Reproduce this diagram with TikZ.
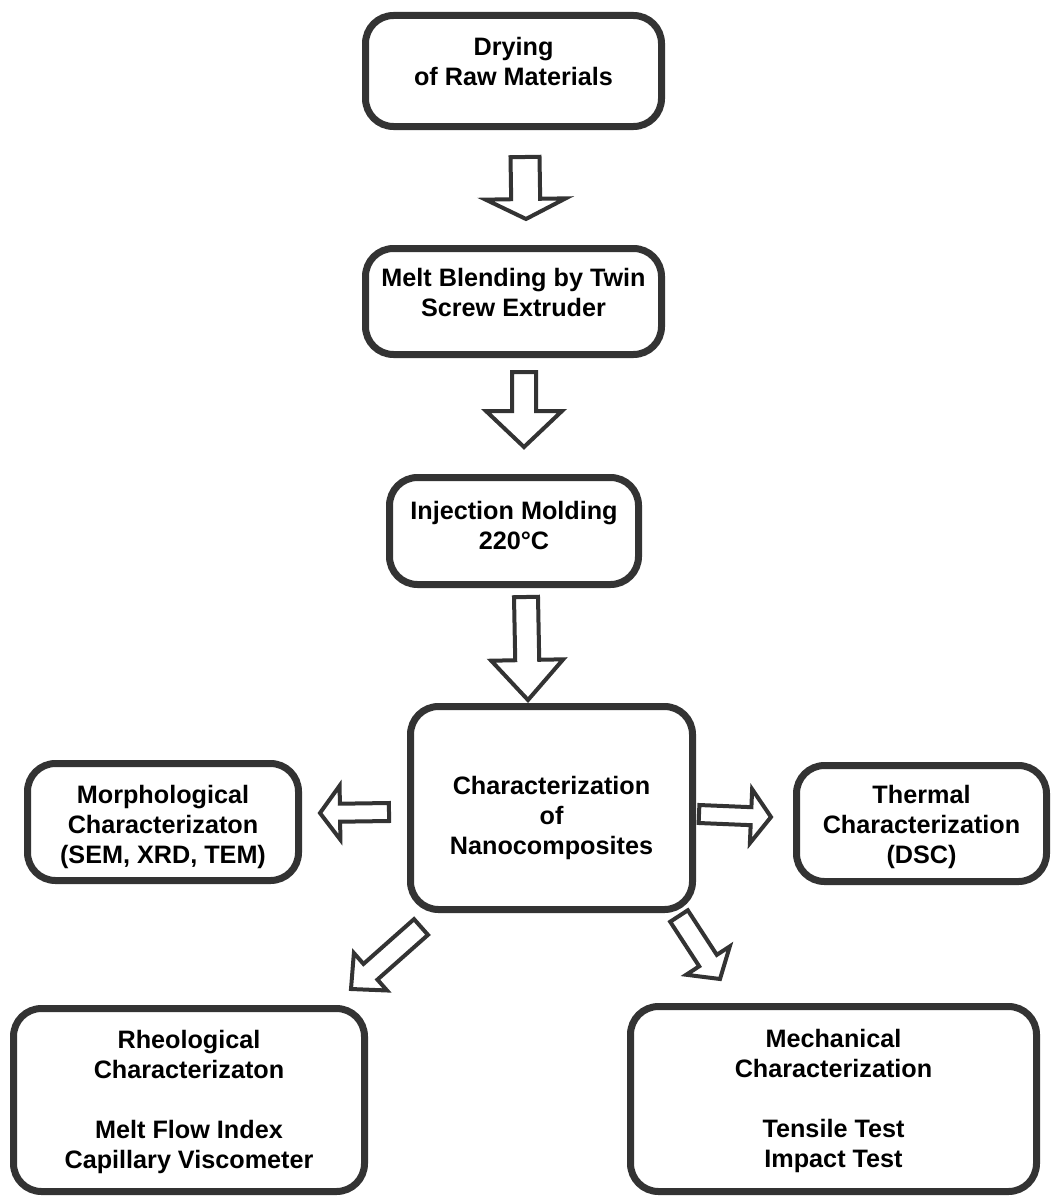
\documentclass[tikz,border=0pt]{standalone}
\usepackage{fontspec}
\setmainfont{Liberation Sans}
\usetikzlibrary{calc,positioning}
\definecolor{boxline}{HTML}{333333}
\tikzset{
  process box/.style={draw=boxline,line width=7pt,rounded corners=28pt,
    fill=white,align=center,inner sep=0pt,
    font=\fontsize{25.2}{30}\selectfont\bfseries},
  block arrow/.style={draw=boxline,line width=4pt,line join=miter,
    fill=white}
}
% #1 tail, #2 tip, #3 half shaft, #4 half head, #5 head length
\newcommand{\blockarrow}[5]{%
  \coordinate (#1base) at ($(#2)!#5!(#1)$);
  \draw[block arrow] ($(#1)!#3!90:(#2)$) -- ($(#1base)!#3!90:(#2)$)
    -- ($(#1base)!#4!90:(#2)$) -- (#2) -- ($(#1base)!#4!-90:(#2)$)
    -- ($(#1base)!#3!-90:(#2)$) -- ($(#1)!#3!-90:(#2)$) -- cycle;}
% invisible struts to nudge the text inside a box
\newcommand{\padbelow}[1]{\rule[-#1]{0pt}{#1}}
\newcommand{\padabove}[1]{\rule{0pt}{#1}}

\begin{document}
\begin{tikzpicture}[x=1pt,y=-1pt]
  \useasboundingbox (0,0) rectangle (1052,1199);
  % process chain
  \node[process box,minimum width=296pt,minimum height=111pt] (drying)
    at (513.5,71) {Drying\\of Raw Materials\padbelow{20pt}};
  \node[process box,minimum width=296pt,minimum height=106pt] (melt)
    at (513.5,301.5) {Melt Blending by Twin\\Screw Extruder\padbelow{18pt}};
  \node[process box,minimum width=249pt,minimum height=107pt] (molding)
    at (514,531) {Injection Molding\\220°C\padbelow{12pt}};
  \node[process box,minimum width=282pt,minimum height=203pt] (charac)
    at (551.5,808) {\padabove{38pt}Characterization\\of\\Nanocomposites};
  % characterization branches
  \node[process box,minimum width=271pt,minimum height=117pt] (morph)
    at (163,822) {\padabove{28pt}Morphological\\Characterizaton\\(SEM, XRD, TEM)};
  \node[process box,minimum width=250pt,minimum height=116pt] (thermal)
    at (921.5,823.5) {\padabove{26pt}Thermal\\Characterization\\(DSC)};
  \node[process box,minimum width=351pt,minimum height=183pt] (rheo)
    at (189,1100) {\padabove{22pt}Rheological\\Characterizaton\\[30pt]Melt Flow Index\\Capillary Viscometer};
  \node[process box,minimum width=406pt,minimum height=185pt] (mech)
    at (833.5,1099) {\padabove{22pt}Mechanical\\Characterization\\[30pt]Tensile Test\\Impact Test};
  % arrow ends
  \coordinate (dryingtail) at (525,157);
  \coordinate (dryingtip) at (526,219);
  \coordinate (melttail) at (524,372);
  \coordinate (melttip) at (524,447);
  \coordinate (moldingtail) at (526,597);
  \coordinate (moldingtip) at (528,700);
  \coordinate (morphtail) at (389,812);
  \coordinate (morphtip) at (320,813);
  \coordinate (thermaltail) at (699,814);
  \coordinate (thermaltip) at (771,817);
  \coordinate (rheotail) at (421,927);
  \coordinate (rheotip) at (351,989);
  \coordinate (mechtail) at (679,916);
  \coordinate (mechtip) at (720,979);
  \foreach \from/\sw/\hw/\hl in {drying/14.5pt/40pt/20pt,melt/12pt/38pt/36pt,
      molding/12pt/36pt/40pt,morph/9pt/27pt/20pt,thermal/9pt/27pt/20pt,
      rheo/10.5pt/25pt/26pt,mech/10.5pt/26pt/22pt}
    {\blockarrow{\from tail}{\from tip}{\sw}{\hw}{\hl}}
\end{tikzpicture}
\end{document}
